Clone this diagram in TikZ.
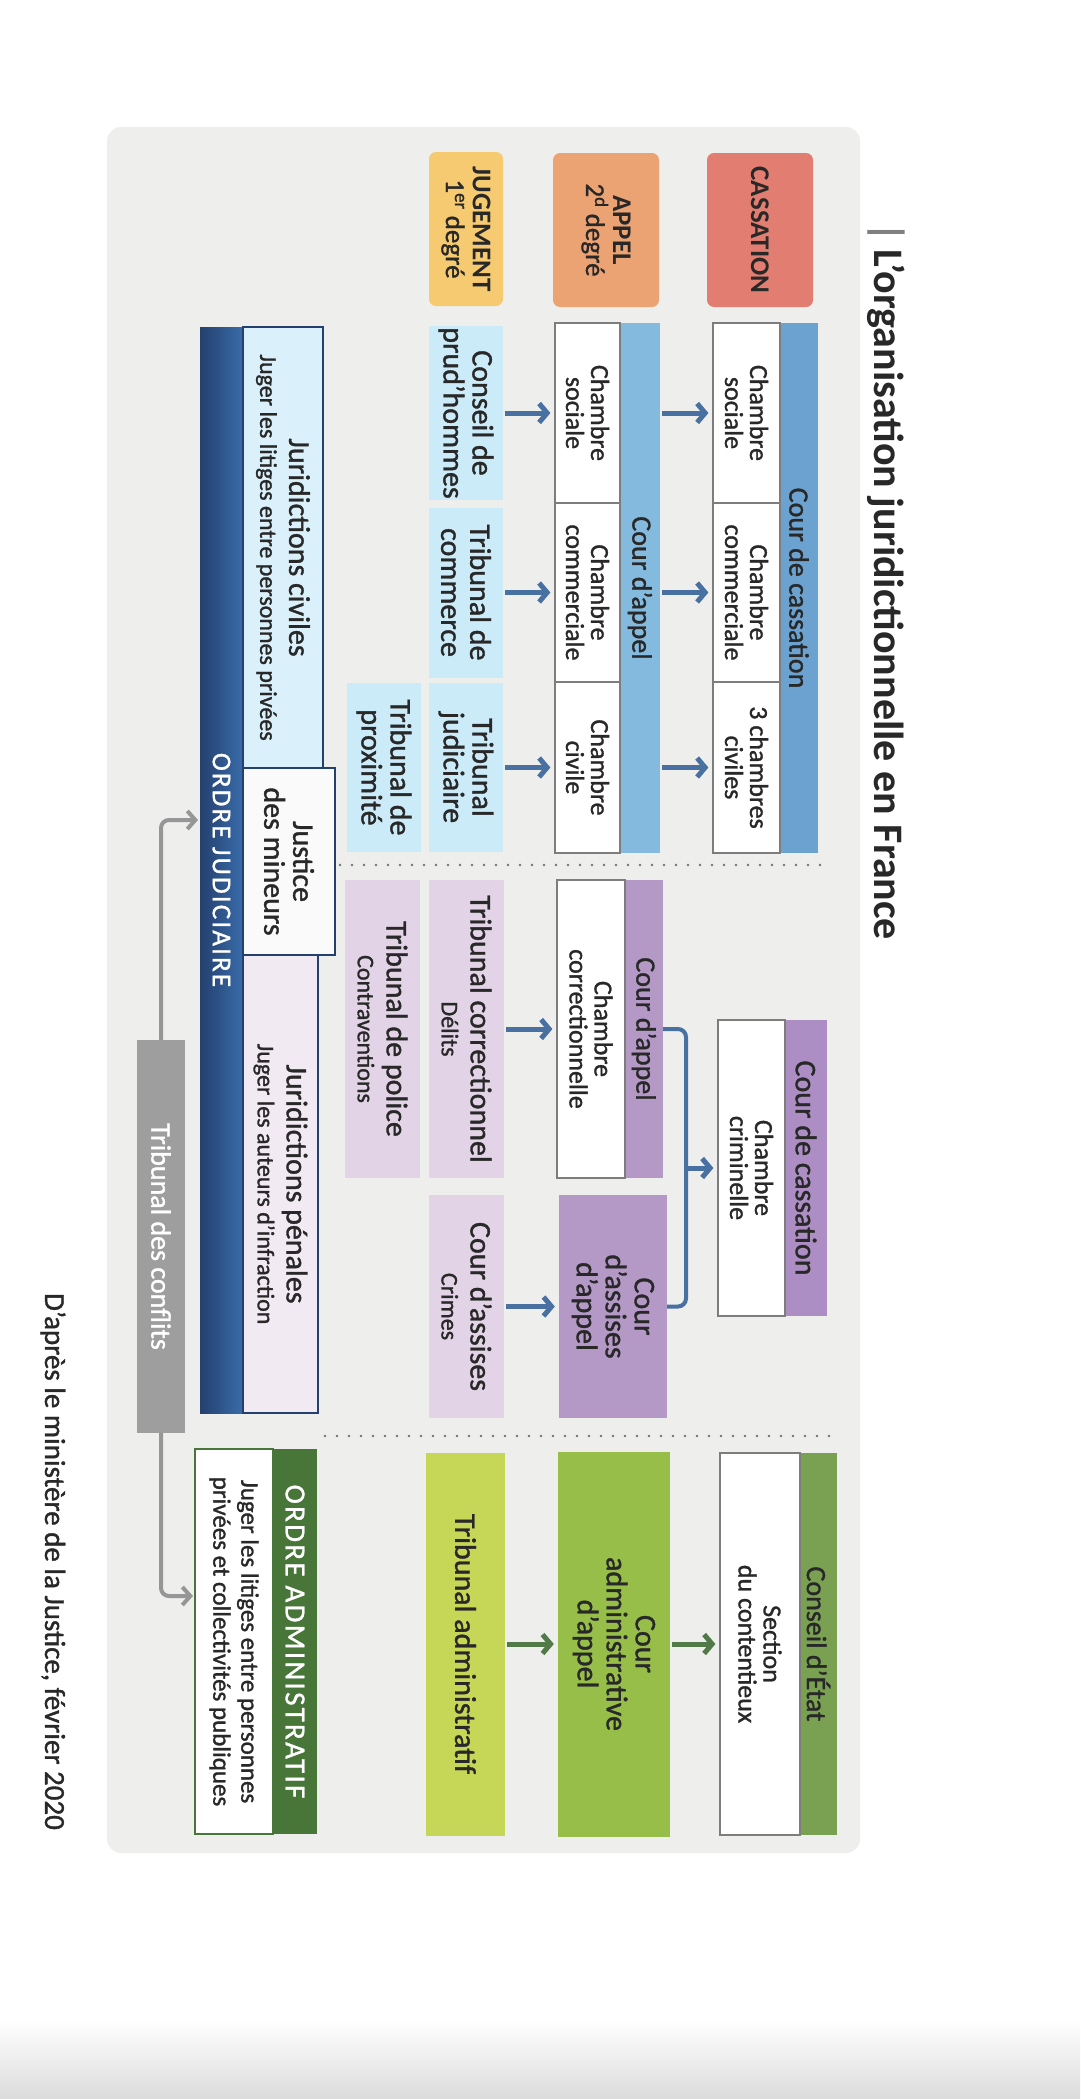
\documentclass[tikz,border=0pt]{standalone}
\usepackage{fontspec}
\setmainfont{Carlito}[UprightFeatures={FakeBold=1.2}]
\usepackage{tikz}
\usetikzlibrary{arrows.meta}

\definecolor{txt}{RGB}{40,40,40}
\definecolor{panel}{RGB}{238,238,237}
\definecolor{cassRed}{RGB}{226,126,113}
\definecolor{appOrange}{RGB}{236,163,115}
\definecolor{jugYellow}{RGB}{246,202,112}
\definecolor{cassBlue}{RGB}{108,162,208}
\definecolor{appBlue}{RGB}{132,186,222}
\definecolor{civLight}{RGB}{204,235,248}
\definecolor{civFill}{RGB}{218,240,250}
\definecolor{penStrip}{RGB}{180,153,199}
\definecolor{penCass}{RGB}{172,142,196}
\definecolor{penLight}{RGB}{226,212,230}
\definecolor{penFill}{RGB}{242,234,242}
\definecolor{admYellow}{RGB}{198,214,86}
\definecolor{admGreen}{RGB}{150,190,72}
\definecolor{ceGreen}{RGB}{122,160,82}
\definecolor{admDark}{RGB}{72,118,56}
\definecolor{navy}{RGB}{36,64,110}
\definecolor{navyLight}{RGB}{58,108,170}
\definecolor{arrBlue}{RGB}{72,112,160}
\definecolor{arrGreen}{RGB}{82,122,72}
\definecolor{cellGray}{RGB}{125,125,125}
\definecolor{confGray}{RGB}{158,158,158}
\definecolor{lineGray}{RGB}{150,150,150}

\newcommand{\fmain}{\fontsize{30}{29}\selectfont}
\newcommand{\fcham}{\fontsize{26}{25}\selectfont}
\newcommand{\fsmall}{\fontsize{24}{25}\selectfont}
\newcommand{\fhead}{\fontsize{28}{28}\selectfont}
\newcommand{\flab}{\fontsize{27}{27}\selectfont}

\begin{document}
\begin{tikzpicture}[x=1pt,y=1pt,
    every node/.style={inner sep=0pt, align=center, text=txt},
    lab/.style={rounded corners=7pt, minimum width=154pt, font=\flab},
    head/.style={minimum height=38pt, font=\fhead},
    cell/.style={draw=cellGray, line width=1.2pt, fill=white, font=\fcham},
    court/.style={minimum height=75pt, font=\fmain},
    order/.style={draw=navy, line width=1.6pt, font=\fmain},
    arr/.style={draw=arrBlue, line width=5pt, shorten <=2pt, shorten >=4pt,
        -{Straight Barb[length=8pt,width=19pt]}},
    arrG/.style={arr, draw=arrGreen},
    brk/.style={draw=arrBlue, line width=4pt, rounded corners=8pt},
    conf/.style={draw=lineGray, line width=4pt, rounded corners=8pt,
        -{Straight Barb[length=8pt,width=18pt]}},
    sep/.style={draw=gray!90!black, line width=2.6pt, line cap=round, dash pattern=on 0pt off 12pt}]

    \useasboundingbox (0,0) rectangle (1080,-2099);
    \fill[white] (0,0) rectangle (1080,-2099);
    \shade[top color=white, bottom color=gray!28] (0,-2020) rectangle (1080,-2099);

    \begin{scope}[rotate=-90, transform shape]
    \fill[panel, rounded corners=14pt] (127,107) rectangle (1853,860);

    \node[anchor=west, font=\bfseries\fontsize{42}{42}\selectfont] (title) at (222,886)
        {\textcolor{gray}{|}\,L’organisation juridictionnelle en France};

    % degres
    \node[lab, fill=cassRed, minimum height=106pt] (cassLab) at (230,760) {\textbf{CASSATION}};
    \node[lab, fill=appOrange, minimum height=106pt] (appLab) at (230,606) {\textbf{APPEL}\\2\textsuperscript{d} degré};
    \node[lab, fill=jugYellow, minimum height=74pt] (jugLab) at (229,466) {\textbf{JUGEMENT}\\1\textsuperscript{er} degré};

    % ordre judiciaire, civil
    \node[head, fill=cassBlue, minimum width=530pt] (cassHead) at (588,799) {Cour de cassation};
    \node[cell, minimum width=180pt, minimum height=67pt] (chSocC) at (413,746.5) {Chambre\\sociale};
    \node[cell, minimum width=179pt, minimum height=67pt] (chComC) at (592.5,746.5) {Chambre\\commerciale};
    \node[cell, minimum width=171pt, minimum height=67pt] (chCivC) at (767.5,746.5) {3 chambres\\civiles};

    \node[head, fill=appBlue, minimum width=530pt, minimum height=40pt] (appHead) at (588,640) {Cour d’appel};
    \node[cell, minimum width=180pt, minimum height=65pt] (chSocA) at (413,587.5) {Chambre\\sociale};
    \node[cell, minimum width=179pt, minimum height=65pt] (chComA) at (592.5,587.5) {Chambre\\commerciale};
    \node[cell, minimum width=171pt, minimum height=65pt] (chCivA) at (767.5,587.5) {Chambre\\civile};

    \node[court, fill=civLight, minimum width=174pt, minimum height=74pt] (conseil) at (413,466) {Conseil de\\prud’hommes};
    \node[court, fill=civLight, minimum width=170pt, minimum height=74pt] (tcom) at (592.5,466) {Tribunal de\\commerce};
    \node[court, fill=civLight, minimum width=169pt, minimum height=74pt] (tjud) at (767.5,466) {Tribunal\\judiciaire};
    \node[court, fill=civLight, minimum width=169pt, minimum height=74pt] (tprox) at (767.5,384) {Tribunal de\\proximité};

    \draw[arr] (conseil) -- (chSocA);
    \draw[arr] (tcom) -- (chComA);
    \draw[arr] (tjud) -- (chCivA);
    \draw[arr] (chSocA |- appHead.north) -- (chSocC);
    \draw[arr] (chComA |- appHead.north) -- (chComC);
    \draw[arr] (chCivA |- appHead.north) -- (chCivC);

    % ordre judiciaire, penal
    \node[head, fill=penCass, minimum width=296pt, minimum height=42pt, font=\fontsize{30}{30}\selectfont] (cassPenHead) at (1168,806) {Cour de cassation};
    \node[cell, minimum width=296pt, minimum height=67pt] (chCrim) at (1168,751.5) {Chambre\\criminelle};

    \node[head, fill=penStrip, minimum width=298pt] (penAppHead) at (1029,644) {Cour d’appel};
    \node[cell, minimum width=298pt, minimum height=68pt] (chCorr) at (1029,591) {Chambre\\correctionnelle};
    \node[court, fill=penStrip, minimum width=223pt, minimum height=108pt] (assApp) at (1306.5,613) {Cour\\d’assises\\d’appel};

    \node[court, fill=penLight, minimum width=298pt] (tcorr) at (1029,466.5) {Tribunal correctionnel\\{\fsmall Délits}};
    \node[court, fill=penLight, minimum width=298pt] (tpol) at (1029,382.5) {Tribunal de police\\{\fsmall Contraventions}};
    \node[court, fill=penLight, minimum width=223pt] (cAss) at (1306.5,466.5) {Cour d’assises\\{\fsmall Crimes}};

    \draw[arr] (tcorr) -- (chCorr);
    \draw[arr] (cAss) -- (assApp);
    \coordinate (bMid) at (1168,686);
    \draw[brk] (penAppHead.north) -- (1029,686) -- (1306.5,686) -- (assApp.north);
    \draw[arr, shorten <=0pt] (bMid) -- (chCrim);

    % ordre administratif
    \node[court, fill=admYellow, minimum width=383pt, minimum height=79pt] (tadm) at (1644,465.5) {Tribunal administratif};
    \node[court, fill=admGreen, minimum width=385pt, minimum height=112pt] (cadm) at (1644,614) {Cour\\administrative\\d’appel};
    \node[head, fill=ceGreen, minimum width=382pt, minimum height=37pt] (ceHead) at (1644,818.5) {Conseil d’État};
    \node[cell, minimum width=382pt, minimum height=80pt] (secCont) at (1644,760) {Section\\du contentieux};

    \draw[arrG] (tadm) -- (cadm);
    \draw[arrG] (cadm) -- (secCont);

    \draw[sep] (865,340) -- (865,828);
    \draw[sep] (1436,325) -- (1436,835);

    % ordres
    \node[left color=navy, right color=navyLight, minimum width=1086pt, minimum height=43pt,
        text=white, font=\fontsize{27}{27}\selectfont\addfontfeature{LetterSpace=8}] (ordJud) at (870,221.5) {ORDRE JUDICIAIRE};
    \node[order, fill=civFill, minimum width=441pt, minimum height=80pt] (civBox) at (547.5,283)
        {Juridictions civiles\\{\fsmall Juger les litiges entre personnes privées}};
    \node[order, fill=penFill, minimum width=458pt, minimum height=75pt] (penBox) at (1184,280.5)
        {Juridictions pénales\\{\fsmall Juger les auteurs d’infraction}};
    \node[order, fill=white!96!gray, minimum width=187pt, minimum height=92pt] (mineurs) at (861.5,289) {Justice\\des mineurs};

    \node[draw=admDark, line width=1.6pt, fill=white, minimum width=385pt, minimum height=78pt,
        font=\fontsize{25}{28}\selectfont] (admBody) at (1641.5,234)
        {Juger les litiges entre personnes\\privées et collectivités publiques};
    \node[fill=admDark, text=white, minimum width=385pt, minimum height=44pt,
        font=\fontsize{29}{29}\selectfont\addfontfeature{LetterSpace=8}] (admHead) at (1641.5,295) {ORDRE ADMINISTRATIF};

    \node[fill=confGray, text=white, minimum width=393pt, minimum height=48pt,
        font=\fontsize{28}{28}\selectfont] (conflits) at (1236.5,161) {Tribunal des conflits};
    \coordinate (cUp) at (820,198);
    \coordinate (cDown) at (1596,193);
    \draw[conf] (conflits.west) -| (cUp);
    \draw[conf] (conflits.east) -| (cDown);

    \node[anchor=east, font=\fontsize{29}{29}\selectfont] (source) at (1830,53) {D’après le ministère de la Justice, février 2020};
    \end{scope}
\end{tikzpicture}
\end{document}
